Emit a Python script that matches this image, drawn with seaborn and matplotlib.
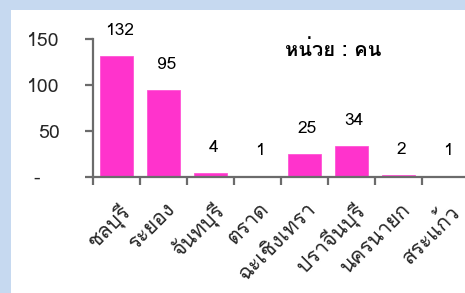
import numpy as np
import pandas as pd
import matplotlib
matplotlib.use("Agg")
import matplotlib.pyplot as plt
import matplotlib.patches as patches
import matplotlib.transforms as mtrans
from matplotlib import font_manager
from matplotlib.ft2font import FT2Font
import seaborn as sns

# Data
provinces = ["ชลบุรี", "ระยอง", "จันทบุรี", "ตราด", "ฉะเชิงเทรา", "ปราจีนบุรี", "นครนายก", "สระแก้ว"]
counts = [132, 95, 4, 1, 25, 34, 2, 1]
y_ticks = [0, 50, 100, 150]
y_tick_labels = ["-   ", "50", "100", "150"]
unit_text = "หน่วย : คน"

df = pd.DataFrame({"province": provinces, "count": counts})

sns.set_theme(style="white")

# Find an installed font that has Thai glyphs
thai_font = None
for f in font_manager.fontManager.ttflist:
    try:
        if 0x0E0A in FT2Font(f.fname).get_charmap():
            thai_font = f.name
            break
    except Exception:
        pass
families = [thai_font, "DejaVu Sans"] if thai_font else ["DejaVu Sans"]
plt.rcParams["font.family"] = families

fig = plt.figure(figsize=(4.65, 2.93), dpi=100)
fig.patch.set_facecolor("#c6d9f0")
# white panel behind the chart
fig.patches.append(patches.Rectangle((11 / 465, 0), 1, 283 / 293, transform=fig.transFigure,
                                     facecolor="white", edgecolor="none", zorder=-5))

ax = fig.add_axes([93 / 465, 116 / 293, 376 / 465, 138 / 293])
ax.set_facecolor("none")
ax.set_zorder(2)

sns.barplot(data=df, x="province", y="count", color="#ff33cc", saturation=1,
            width=0.72, edgecolor="#ff55d5", linewidth=0.6, ax=ax)

ax.set_xlim(-0.5, len(provinces) - 0.5)
ax.set_ylim(0, 150)
ax.set_xlabel("")
ax.set_ylabel("")

# value labels above the bars
for i, v in enumerate(counts):
    ax.annotate(str(v), (i, v), xytext=(2, 18), textcoords="offset points",
                ha="center", va="center", fontsize=12.5, color="black")

# y axis
ax.set_yticks(y_ticks)
ax.set_yticklabels(y_tick_labels, fontsize=14)

# x axis: ticks between categories, labels at categories
ax.set_xticks(np.arange(len(provinces)))
ax.set_xticklabels(provinces, rotation=45, ha="right", rotation_mode="anchor", fontsize=15)
ax.set_xticks(np.arange(len(provinces) + 1) - 0.5, minor=True)
ax.tick_params(axis="x", which="major", bottom=True, length=0, pad=16)
ax.tick_params(axis="x", which="minor", bottom=True, length=6, width=1.6, color="#6b6b6b", direction="out")
ax.tick_params(axis="y", which="major", left=True, length=6, width=1.6, color="#6b6b6b", direction="out", pad=18)
shift = mtrans.ScaledTranslation(2 / 100, 0, fig.dpi_scale_trans)
for lab in ax.get_xticklabels():
    lab.set_transform(lab.get_transform() + shift)

for side in ["top", "right"]:
    ax.spines[side].set_visible(False)
for side in ["left", "bottom"]:
    ax.spines[side].set_color("#6b6b6b")
    ax.spines[side].set_linewidth(1.6)

fig.text(333 / 465, 1 - 50 / 293, unit_text, ha="center", va="center",
         fontsize=14.5, fontweight="bold", color="black")

fig.savefig("out.png", dpi=100, facecolor=fig.get_facecolor())
